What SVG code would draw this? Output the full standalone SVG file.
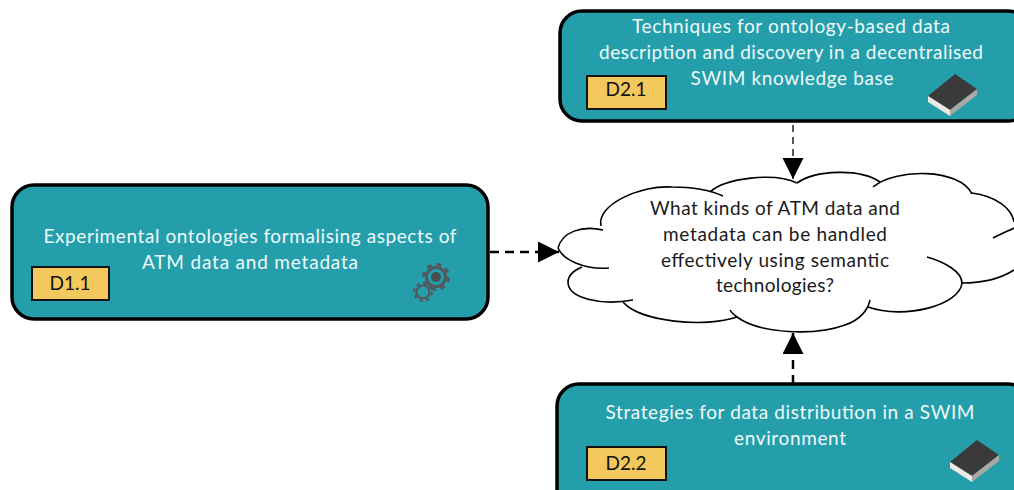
<svg xmlns="http://www.w3.org/2000/svg" width="1014" height="490" viewBox="0 0 1014 490">
<style>
.box{fill:#259eab;stroke:#000;stroke-width:3.5}
.tag{fill:#f3c85c;stroke:#111;stroke-width:2}
.t{font-family:"Lato","Liberation Sans",sans-serif;font-size:19px;text-anchor:middle;fill:#eefafa}
.k{font-family:"Lato","Liberation Sans",sans-serif;font-size:19px;text-anchor:middle;fill:#111}
.q{font-family:"Lato","Liberation Sans",sans-serif;font-size:19px;text-anchor:middle;fill:#1a1a1a}
.c{fill:none;stroke:#000}
.cl{fill:#fff;stroke:none}
.ol{fill:none;stroke:#000;stroke-width:1.6}
</style>
<defs>
<marker id="arrow" markerUnits="userSpaceOnUse" markerWidth="22" markerHeight="22" refX="21" refY="10.5" orient="auto"><path d="M0 0L21 10.5L0 21Z" fill="#000"/></marker>
<g id="book">
<path d="M-25 1L2 -21L24 -6L-3 15Z" fill="#3a3a3a"/>
<path d="M-25 1L-3 15L-3 21L-25 7Z" fill="#ece9e2"/>
<path d="M-3 15L24 -6L24 0L-3 21Z" fill="#a9a9a4"/>
</g>
</defs>
<rect width="1014" height="490" fill="#fff"/>
<g id="connectors">
<path class="c" d="M793 125V179" stroke-width="1.3" stroke-dasharray="7 5" marker-end="url(#arrow)"/>
<path class="c" d="M490 252H559" stroke-width="2.5" stroke-dasharray="9 6" marker-end="url(#arrow)"/>
<path class="c" d="M793 384V333" stroke-width="2.5" stroke-dasharray="9 6" marker-end="url(#arrow)"/>
</g>
<g id="cloud">
<path class="cl" d="M558 248C560 232 580 226 600 227C600 200 640 185 672 187C690 187 705 189 715 193C730 180 770 172 797 183C810 172 860 168 876 184C900 168 960 168 972 193C995 196 1010 210 1014 222V272C1000 280 980 283 962 283C960 305 910 320 868 306C850 338 770 342 735 316C700 328 640 320 623 302C590 305 565 295 568 282C568 275 575 270 582 267C570 262 560 256 558 248Z"/>
<path class="ol" d="M558 248C562 232 582 225 603 230"/>
<path class="ol" d="M601 226C596 205 640 185 672 187C695 187 712 191 723 196"/>
<path class="ol" d="M710 192C725 178 775 172 797 183"/>
<path class="ol" d="M797 183C815 170 860 168 880 182"/>
<path class="ol" d="M873 187C895 168 960 168 972 194"/>
<path class="ol" d="M972 193C995 196 1012 208 1014 222"/>
<path class="ol" d="M993 238C1000 234 1008 231 1014 228"/>
<path class="ol" d="M1014 270C1000 279 982 283 962 283"/>
<path class="ol" d="M927 257C945 262 962 272 962 283C960 305 905 320 868 307"/>
<path class="ol" d="M870 300C868 310 860 320 845 325C815 336 760 334 737 317C733 314 731 312 730 310"/>
<path class="ol" d="M737 317C705 328 640 322 623 302"/>
<path class="ol" d="M633 300C600 306 568 298 568 282C568 275 575 270 582 267"/>
<path class="ol" d="M609 268C585 270 563 260 558 248"/>
<text class="q" x="775" y="215" textLength="250" lengthAdjust="spacing">What kinds of ATM data and</text>
<text class="q" x="775" y="241" textLength="224" lengthAdjust="spacing">metadata can be handled</text>
<text class="q" x="775" y="267" textLength="228" lengthAdjust="spacing">effectively using semantic</text>
<text class="q" x="775" y="292" textLength="118" lengthAdjust="spacing">technologies?</text>
</g>
<g id="d11">
<rect class="box" x="12" y="185" width="476" height="134" rx="22"/>
<text class="t" x="250" y="243" textLength="413" lengthAdjust="spacing">Experimental ontologies formalising aspects of</text>
<text class="t" x="250" y="269" textLength="216" lengthAdjust="spacing">ATM data and metadata</text>
<rect class="tag" x="32" y="267" width="77" height="33"/>
<text class="k" x="70" y="290" textLength="41" lengthAdjust="spacing">D1.1</text>
<g id="gears" fill="none" stroke="#50595e">
<circle cx="436" cy="277" r="9.5" stroke-width="3"/>
<circle cx="436" cy="277" r="12.5" stroke-width="3" stroke-dasharray="5 4.8"/>
<circle cx="436" cy="277" r="5" fill="#4a4f54" stroke="none"/>
<circle cx="423" cy="292" r="6.5" stroke-width="2.2"/>
<circle cx="423" cy="292" r="8.8" stroke-width="2.2" stroke-dasharray="3.5 3.4"/>
</g>
</g>
<g id="d21">
<rect class="box" x="560" y="11" width="470" height="110" rx="22"/>
<text class="t" x="791" y="33" textLength="318" lengthAdjust="spacing">Techniques for ontology-based data</text>
<text class="t" x="791" y="59" textLength="384" lengthAdjust="spacing">description and discovery in a decentralised</text>
<text class="t" x="792" y="85" textLength="203" lengthAdjust="spacing">SWIM knowledge base</text>
<rect class="tag" x="587" y="76" width="79" height="33"/>
<text class="k" x="626" y="96" textLength="41" lengthAdjust="spacing">D2.1</text>
<use href="#book" x="953" y="95"/>
</g>
<g id="d22">
<rect class="box" x="557" y="384" width="473" height="130" rx="22"/>
<text class="t" x="790" y="419" textLength="369" lengthAdjust="spacing">Strategies for data distribution in a SWIM</text>
<text class="t" x="790" y="445" textLength="112" lengthAdjust="spacing">environment</text>
<rect class="tag" x="587" y="447" width="79" height="33"/>
<text class="k" x="626" y="470" textLength="41" lengthAdjust="spacing">D2.2</text>
<use href="#book" x="975" y="461"/>
</g>
</svg>
